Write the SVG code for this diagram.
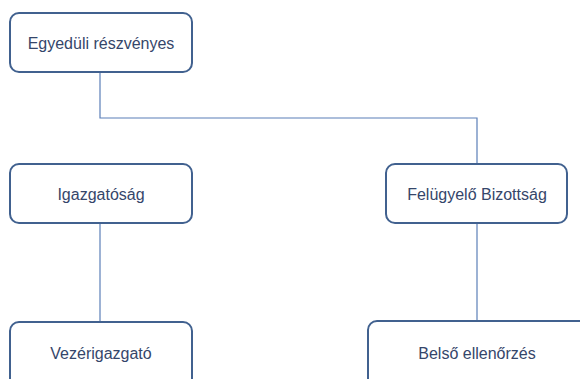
<svg xmlns="http://www.w3.org/2000/svg" width="580" height="379" viewBox="0 0 580 379">
<style>
.box{fill:#fff;stroke:#41618f;stroke-width:2}
.lbl{font-family:"Liberation Sans",Arial,sans-serif;font-size:16px;fill:#35466a;text-anchor:middle}
.con{fill:none;stroke:#5b7fb8;stroke-width:1.2}
</style>
<rect width="580" height="379" fill="#fff"/>
<g id="connectors">
<path class="con" d="M100,72V118H477V163"/>
<path class="con" d="M100,223V322"/>
<path class="con" d="M477,223V321"/>
</g>
<g id="n1"><rect class="box" x="10" y="13" width="182" height="59" rx="9"/><text class="lbl" x="101" y="49">Egyedüli részvényes</text></g>
<g id="n2"><rect class="box" x="10" y="164" width="182" height="59" rx="9"/><text class="lbl" x="101" y="200">Igazgatóság</text></g>
<g id="n3"><rect class="box" x="386" y="164" width="181" height="59" rx="9"/><text class="lbl" x="477" y="200">Felügyelő Bizottság</text></g>
<g id="n4"><rect class="box" x="10" y="322" width="182" height="70" rx="9"/><text class="lbl" x="101" y="359">Vezérigazgató</text></g>
<g id="n5"><rect class="box" x="368" y="321" width="220" height="70" rx="9"/><text class="lbl" x="477" y="359">Belső ellenőrzés</text></g>
</svg>
